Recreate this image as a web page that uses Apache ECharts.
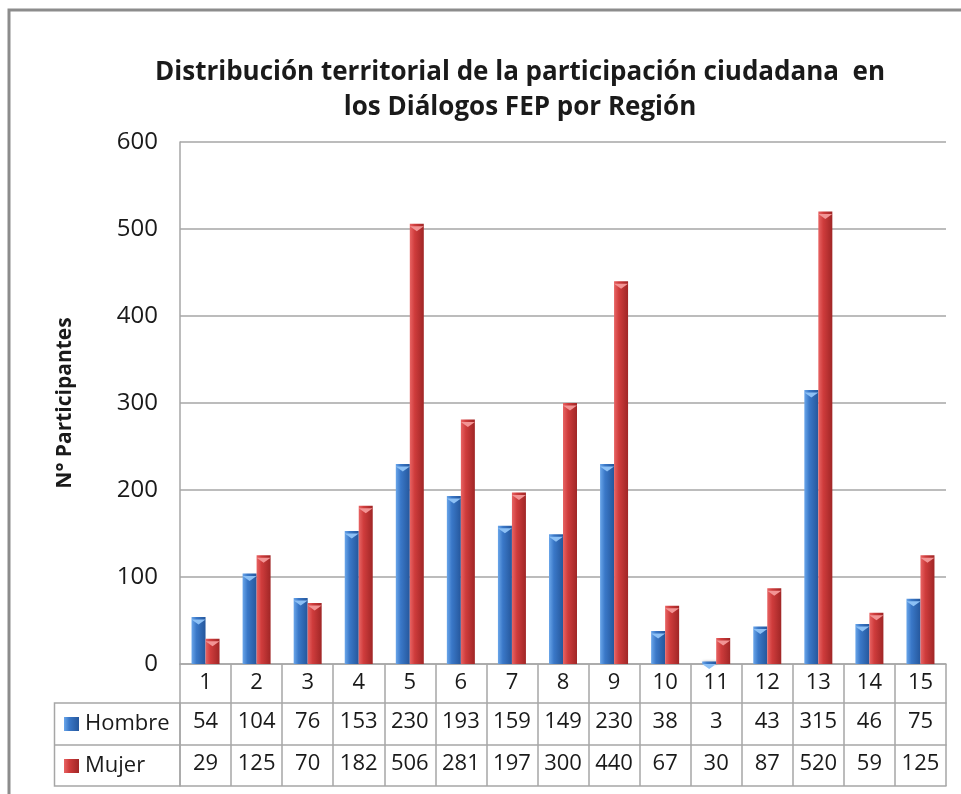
<!DOCTYPE html>
<html>
<head>
<meta charset="utf-8" />
<title>Diálogos FEP por Región</title>
<script src="https://cdn.jsdelivr.net/npm/echarts@6/dist/echarts.min.js"></script>
<style>
html, body { margin: 0; padding: 0; background: #fff; }
</style>
</head>
<body>
<div id="main" style="width: 961px;height:794px;"></div>
<script type="text/javascript">
// datos de la tabla
var regiones = ['1', '2', '3', '4', '5', '6', '7', '8', '9', '10', '11', '12', '13', '14', '15'];
var hombre = [54, 104, 76, 153, 230, 193, 159, 149, 230, 38, 3, 43, 315, 46, 75];
var mujer = [29, 125, 70, 182, 506, 281, 197, 300, 440, 67, 30, 87, 520, 59, 125];
var yTicks = { min: 0, max: 600, step: 100 };

var FONT = 'Open Sans';
var lineCol = '#a6a6a6';

var myChart = echarts.init(document.getElementById('main'));

function barGrad(light, mid, dark) {
  return new echarts.graphic.LinearGradient(0, 0, 1, 0, [
    { offset: 0, color: light },
    { offset: 0.35, color: mid },
    { offset: 1, color: dark }
  ]);
}

// eje de la tabla: una fila por eje
function tableAxis(data, offset, tickLen, showLabel) {
  return {
    type: 'category',
    data: data,
    position: 'bottom',
    offset: offset,
    axisLine: { show: true, lineStyle: { color: lineCol, width: 1.5 } },
    axisTick: { show: tickLen > 0, interval: 0, length: tickLen, lineStyle: { color: lineCol, width: 1.5 } },
    axisLabel: { show: showLabel, interval: 0, fontFamily: FONT, fontSize: 22, color: '#1a1a1a', margin: 8 },
    splitLine: { show: false }
  };
}

// tapa triangular encima de cada barra
function capSeries(name, data, color) {
  return {
    name: name,
    type: 'pictorialBar',
    xAxisIndex: 0,
    data: data,
    barWidth: 14,
    barGap: '0%',
    symbol: 'path://M0,0 L14,0 L7,5 Z',
    symbolSize: [14, 5],
    symbolPosition: 'end',
    symbolOffset: [0, 2.5],
    itemStyle: { color: color },
    silent: true,
    z: 3
  };
}

var option = {
  backgroundColor: '#fff',
  textStyle: { fontFamily: FONT },
  title: {
    text: 'Distribución territorial de la participación ciudadana  en\nlos Diálogos FEP por Región',
    left: 515,
    top: 50,
    textAlign: 'center',
    textStyle: { fontFamily: FONT, fontSize: 26, fontWeight: 'bold', color: '#1a1a1a', lineHeight: 35 }
  },
  legend: {
    data: ['Hombre', 'Mujer'],
    orient: 'vertical',
    left: 59,
    top: 708,
    icon: 'rect',
    itemWidth: 15,
    itemHeight: 14,
    itemGap: 20,
    textStyle: { fontFamily: FONT, fontSize: 22, color: '#1a1a1a', padding: [0, 0, 0, 1] }
  },
  grid: { left: 180, right: 15, top: 142, bottom: 130, containLabel: false },
  xAxis: [
    tableAxis(regiones, 0, 39, true),
    tableAxis(hombre.map(String), 39, 42, true),
    tableAxis(mujer.map(String), 81, 41, true),
    tableAxis(regiones, 122, 0, false)
  ],
  yAxis: {
    type: 'value',
    min: yTicks.min,
    max: yTicks.max,
    interval: yTicks.step,
    name: 'N° Participantes',
    nameLocation: 'middle',
    nameRotate: 90,
    nameGap: 104,
    nameTextStyle: { fontFamily: FONT, fontSize: 21, fontWeight: 'bold', color: '#1a1a1a' },
    axisLine: { show: true, lineStyle: { color: lineCol, width: 1.5 } },
    axisTick: { show: false },
    axisLabel: { fontFamily: FONT, fontSize: 24, color: '#1a1a1a', margin: 22 },
    splitLine: { lineStyle: { color: lineCol, width: 1.5 } }
  },
  series: [
    {
      name: 'Hombre',
      type: 'bar',
      xAxisIndex: 0,
      data: hombre,
      barWidth: 14,
      barGap: '0%',
      itemStyle: {
        color: barGrad('#6aa6ea', '#3a78c8', '#25579c'),
        shadowColor: 'rgba(0,0,0,0.3)', shadowBlur: 3, shadowOffsetX: 1
      }
    },
    {
      name: 'Mujer',
      type: 'bar',
      xAxisIndex: 0,
      data: mujer,
      barWidth: 14,
      barGap: '0%',
      itemStyle: {
        color: barGrad('#e86464', '#cf3c3c', '#a02626'),
        shadowColor: 'rgba(0,0,0,0.3)', shadowBlur: 3, shadowOffsetX: 1
      }
    },
    capSeries('capHombre', hombre, '#8cc0f5'),
    capSeries('capMujer', mujer, '#f29494')
  ],
  graphic: [
    // marco del gráfico
    { type: 'rect', shape: { x: 9, y: 10, width: 1000, height: 900 }, style: { fill: 'none', stroke: '#8c8c8c', lineWidth: 3 }, silent: true },
    // celda de la leyenda en la tabla
    { type: 'rect', shape: { x: 54.5, y: 703, width: 125.5, height: 83 }, style: { fill: 'none', stroke: lineCol, lineWidth: 1.5 }, silent: true },
    { type: 'line', shape: { x1: 54.5, y1: 745, x2: 180, y2: 745 }, style: { stroke: lineCol, lineWidth: 1.5 }, silent: true }
  ]
};

myChart.setOption(option);
</script>
</body>
</html>
